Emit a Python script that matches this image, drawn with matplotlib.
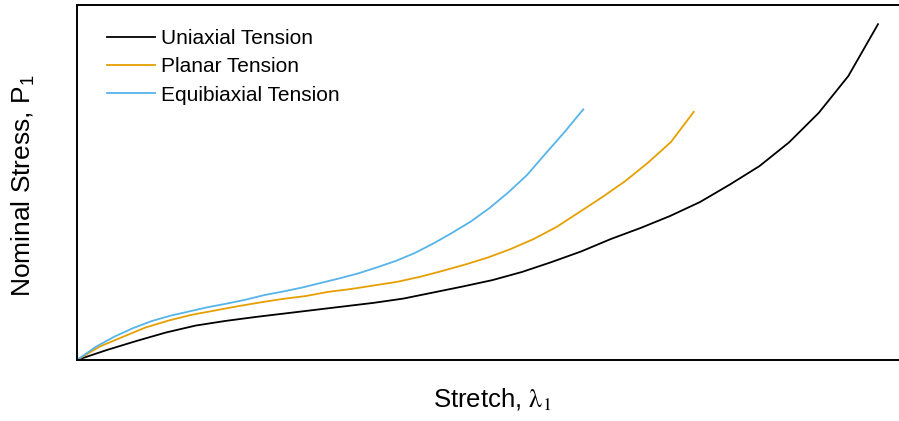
import matplotlib
matplotlib.use("Agg")
import matplotlib.pyplot as plt

plt.rcParams['font.family'] = ['Liberation Sans', 'DejaVu Sans']
plt.rcParams['mathtext.rm'] = 'Liberation Sans'
plt.rcParams['mathtext.it'] = 'Liberation Sans:italic'
plt.rcParams['mathtext.bf'] = 'Liberation Sans:bold'

# Uniaxial tension: stretch and nominal stress
uni_stretch = [1.00, 1.25, 1.50, 1.75, 2.00, 2.25, 2.50, 2.75, 3.00, 3.25,
               3.50, 3.75, 4.00, 4.25, 4.50, 4.75, 5.00, 5.25, 5.50, 5.75,
               6.00, 6.25, 6.50, 6.75, 7.00, 7.25, 7.50, 7.75]
uni_stress = [0.00, 0.28, 0.535, 0.775, 0.97, 1.10, 1.21, 1.31, 1.41, 1.51,
              1.61, 1.73, 1.90, 2.07, 2.25, 2.48, 2.76, 3.06, 3.41, 3.72,
              4.06, 4.45, 4.94, 5.46, 6.13, 6.96, 8.00, 9.46]

# Planar tension
pla_stretch = [1.000, 1.192, 1.385, 1.577, 1.770, 1.962, 2.155, 2.347, 2.540, 2.732,
               2.925, 3.117, 3.310, 3.502, 3.695, 3.887, 4.080, 4.272, 4.465, 4.657,
               4.850, 5.042, 5.235, 5.427, 5.620, 5.812, 6.005, 6.197]
pla_stress = [0.00, 0.38, 0.65, 0.915, 1.11, 1.27, 1.39, 1.51, 1.62, 1.72,
              1.80, 1.92, 2.00, 2.10, 2.20, 2.34, 2.51, 2.69, 2.89, 3.13,
              3.41, 3.75, 4.17, 4.59, 5.04, 5.56, 6.14, 6.99]

# Equibiaxial tension
equ_stretch = [1.000, 1.158, 1.316, 1.474, 1.632, 1.790, 1.948, 2.106, 2.264, 2.422,
               2.580, 2.738, 2.896, 3.054, 3.212, 3.370, 3.528, 3.686, 3.844, 4.002,
               4.160, 4.318, 4.476, 4.634, 4.792, 4.950, 5.108, 5.266]
equ_stress = [0.00, 0.37, 0.66, 0.90, 1.10, 1.25, 1.37, 1.49, 1.59, 1.70,
              1.83, 1.93, 2.04, 2.17, 2.30, 2.44, 2.61, 2.79, 3.01, 3.28,
              3.58, 3.90, 4.28, 4.72, 5.21, 5.82, 6.42, 7.06]

labels = ["Uniaxial Tension", "Planar Tension", "Equibiaxial Tension"]
colors = ["#000000", "#E69F00", "#56B4E9"]

W, H = 899, 421
fig = plt.figure(figsize=(W / 100, H / 100), dpi=100)
ax = fig.add_axes([77 / W, 61 / H, 822 / W, 355 / H])

for xs, ys, lab, col in zip([uni_stretch, pla_stretch, equ_stretch],
                            [uni_stress, pla_stress, equ_stress],
                            labels, colors):
    ax.plot(xs, ys, color=col, lw=1.3, label=lab)

ax.set_xlim(1.0, 1.0 + 822 / 118.67)
ax.set_ylim(0, 10)
ax.set_xticks([])
ax.set_yticks([])
for side in ["left", "top", "bottom"]:
    ax.spines[side].set_linewidth(1.4)
ax.spines["right"].set_visible(False)

ax.set_xlabel(r"Stretch, $\mathrm{\lambda}_{1}$", fontsize=18.5,
              math_fontfamily='stix')
ax.xaxis.label.set_va('center')
ax.xaxis.set_label_coords(0.5055, -0.113)

ax.set_ylabel(r"Nominal Stress, P$_1$", fontsize=19, math_fontfamily='custom')
ax.yaxis.label.set_va('center')
ax.yaxis.set_label_coords(-0.065, 0.49)

leg = ax.legend(loc="upper left", frameon=False, fontsize=15,
                handlelength=2.3, handletextpad=0.3, labelspacing=0.45,
                borderaxespad=0.0, bbox_to_anchor=(0.0264, 0.956))

fig.savefig("out.png", dpi=100)
